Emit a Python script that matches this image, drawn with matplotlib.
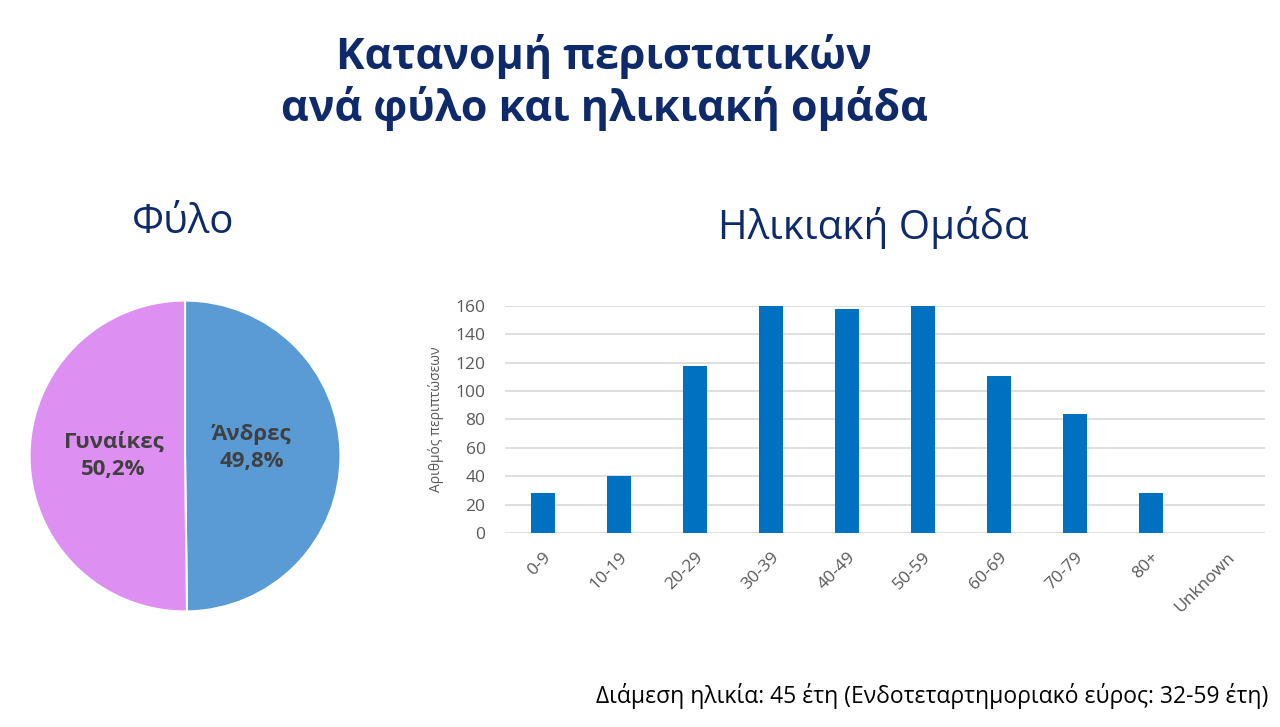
import numpy as np
import matplotlib
matplotlib.use('Agg')
import matplotlib.pyplot as plt

plt.rcParams['font.family'] = ['Open Sans', 'DejaVu Sans']

# data
sex_labels = ['Άνδρες', 'Γυναίκες']
sex_pct = [49.8, 50.2]
sex_colors = ['#5B9BD5', '#DE8FF2']

age_groups = ['0-9', '10-19', '20-29', '30-39', '40-49', '50-59',
              '60-69', '70-79', '80+', 'Unknown']
age_cases = [28, 40, 118, 160, 158, 160, 111, 84, 28, 0]

navy = '#0E2A6B'

fig = plt.figure(figsize=(12.8, 7.27), dpi=100)
fig.patch.set_facecolor('white')

fig.text(0.472, 0.886, 'Κατανομή περιστατικών\nανά φύλο και ηλικιακή ομάδα',
         ha='center', va='center', fontsize=31, fontweight='bold',
         color=navy, linespacing=1.2)

fig.text(0.143, 0.693, 'Φύλο', ha='center', va='center', fontsize=29, color=navy)
fig.text(0.682, 0.687, 'Ηλικιακή Ομάδα', ha='center', va='center', fontsize=29, color=navy)

# pie
ax0 = fig.add_axes([0.0219, 0.1568, 0.2453, 0.4319])
wedges, _ = ax0.pie(sex_pct, colors=sex_colors, startangle=90, counterclock=False,
                    wedgeprops=dict(edgecolor='white', linewidth=1.5))
ax0.set_xlim(-1.01, 1.01)
ax0.set_ylim(-1.01, 1.01)
ax0.set_aspect('equal')
label_pos = [(0.43, 0.05), (-0.46, 0.0)]
for lab, p, (lx, ly) in zip(sex_labels, sex_pct, label_pos):
    ax0.text(lx, ly, f'{lab}\n{p:.1f}%'.replace('.', ','),
             ha='center', va='center', fontsize=16, fontweight='bold',
             color='#404040', linespacing=1.4)

# bars
ax1 = fig.add_axes([0.3945, 0.267, 0.594, 0.312])
x = np.arange(len(age_groups))
ax1.bar(x, age_cases, width=0.32, color='#0070C0', zorder=3)
ax1.set_xlim(-0.5, len(age_groups) - 0.5)
ax1.set_ylim(0, 160)
ax1.set_yticks(np.arange(0, 161, 20))
ax1.yaxis.grid(True, color='#D9D9D9', linewidth=1.2, zorder=0)
for s in ax1.spines.values():
    s.set_visible(False)
ax1.tick_params(axis='both', length=0, labelsize=12.5, colors='#595959')
ax1.tick_params(axis='y', pad=14)
ax1.set_xticks(x)
ax1.set_xticklabels(age_groups, rotation=45, ha='right', rotation_mode='anchor')
ax1.tick_params(axis='x', pad=12)
ax1.set_ylabel('Αριθμός περιπτώσεων', fontsize=10, color='#595959', labelpad=8)

fig.text(0.991, 0.042, 'Διάμεση ηλικία: 45 έτη (Ενδοτεταρτημοριακό εύρος: 32-59 έτη)',
         ha='right', va='center', fontsize=16.5, color='black')

fig.savefig('out.png', dpi=100)
